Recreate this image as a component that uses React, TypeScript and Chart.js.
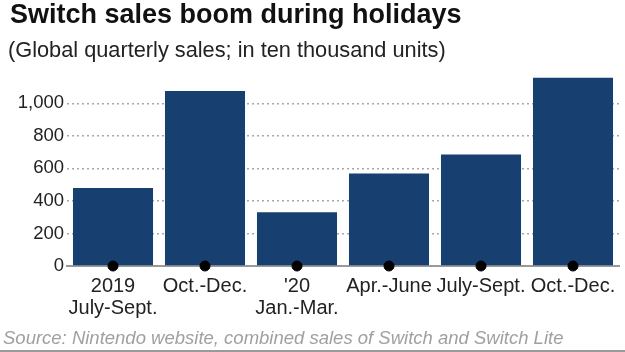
import React, { useEffect, useRef } from "react";
import { Chart, registerables } from "chart.js";

Chart.register(...registerables);

const categories: string[][] = [
  ["2019", "July-Sept."],
  ["Oct.-Dec."],
  ["'20", "Jan.-Mar."],
  ["Apr.-June"],
  ["July-Sept."],
  ["Oct.-Dec."],
];
const sales: number[] = [480, 1076, 331, 568, 686, 1157];
const baselineDots: number[] = [0, 0, 0, 0, 0, 0];
const yTicks: number[] = [0, 200, 400, 600, 800, 1000];

const titleText = "Switch sales boom during holidays";
const subtitleText = "(Global quarterly sales; in ten thousand units)";
const sourceText = "Source: Nintendo website, combined sales of Switch and Switch Lite";

const FONT = "'Liberation Sans', Arial, sans-serif";

const textPlugin = {
  id: "textPlugin",
  afterDraw(chart: any) {
    const ctx = chart.ctx;
    ctx.save();
    ctx.textBaseline = "middle";
    ctx.textAlign = "left";
    ctx.fillStyle = "#111";
    ctx.font = `bold 27px ${FONT}`;
    ctx.fillText(titleText, 10, 16);
    ctx.fillStyle = "#222";
    ctx.font = `21.75px ${FONT}`;
    ctx.fillText(subtitleText, 8, 51);
    ctx.font = `italic 18.5px ${FONT}`;
    ctx.fillStyle = "#a0a0a0";
    ctx.fillText(sourceText, 3, 339);
    ctx.strokeStyle = "#9a9a9a";
    ctx.lineWidth = 2;
    ctx.beginPath();
    ctx.moveTo(0, 351);
    ctx.lineTo(chart.width, 351);
    ctx.stroke();
    ctx.restore();
  },
};

export default function App() {
  const ref = useRef<HTMLCanvasElement | null>(null);
  useEffect(() => {
    if (!ref.current) return;
    const chart = new Chart(ref.current, {
      type: "bar",
      data: {
        labels: categories,
        datasets: [
          {
            type: "bar",
            data: sales,
            backgroundColor: "#173f70",
            categoryPercentage: 1,
            barPercentage: 0.87,
            order: 2,
          } as any,
          {
            type: "line",
            data: baselineDots,
            showLine: false,
            pointRadius: 5,
            pointBackgroundColor: "#000",
            pointBorderColor: "#000",
            borderColor: "#000",
            order: 1,
            clip: false,
          } as any,
        ],
      },
      options: {
        animation: false,
        responsive: false,
        maintainAspectRatio: false,
        layout: { padding: { left: 0, right: 4, top: 74, bottom: 24 } },
        plugins: {
          legend: { display: false },
          tooltip: { enabled: false },
          title: { display: false },
        },
        scales: {
          x: {
            grid: { display: false, drawTicks: false },
            border: { display: true, color: "#9a9a9a", width: 2 },
            ticks: {
              color: "#222",
              font: { family: FONT, size: 20, lineHeight: 1.1 },
              padding: 9,
              maxRotation: 0,
              autoSkip: false,
            },
          },
          y: {
            min: 0,
            max: 1180,
            z: 1,
            afterFit(scale: any) {
              scale.width = 67;
            },
            afterBuildTicks(scale: any) {
              scale.ticks = yTicks.map((v) => ({ value: v }));
            },
            border: { display: false, dash: [2, 3] },
            grid: {
              color: (c: any) => (c.tick && c.tick.value === 0 ? "rgba(0,0,0,0)" : "rgba(110,110,110,0.6)"),
              lineWidth: 1.5,
              drawTicks: false,
            },
            ticks: {
              color: "#222",
              font: { family: FONT, size: 18.5 },
              padding: 3,
            },
          },
        },
      },
      plugins: [textPlugin],
    });
    return () => chart.destroy();
  }, []);
  return (
    <div style={{ position: "absolute", left: 0, top: 0, width: 625, height: 352, background: "#fff" }}>
      <canvas ref={ref} width={625} height={352} style={{ width: 625, height: 352 }} />
    </div>
  );
}
